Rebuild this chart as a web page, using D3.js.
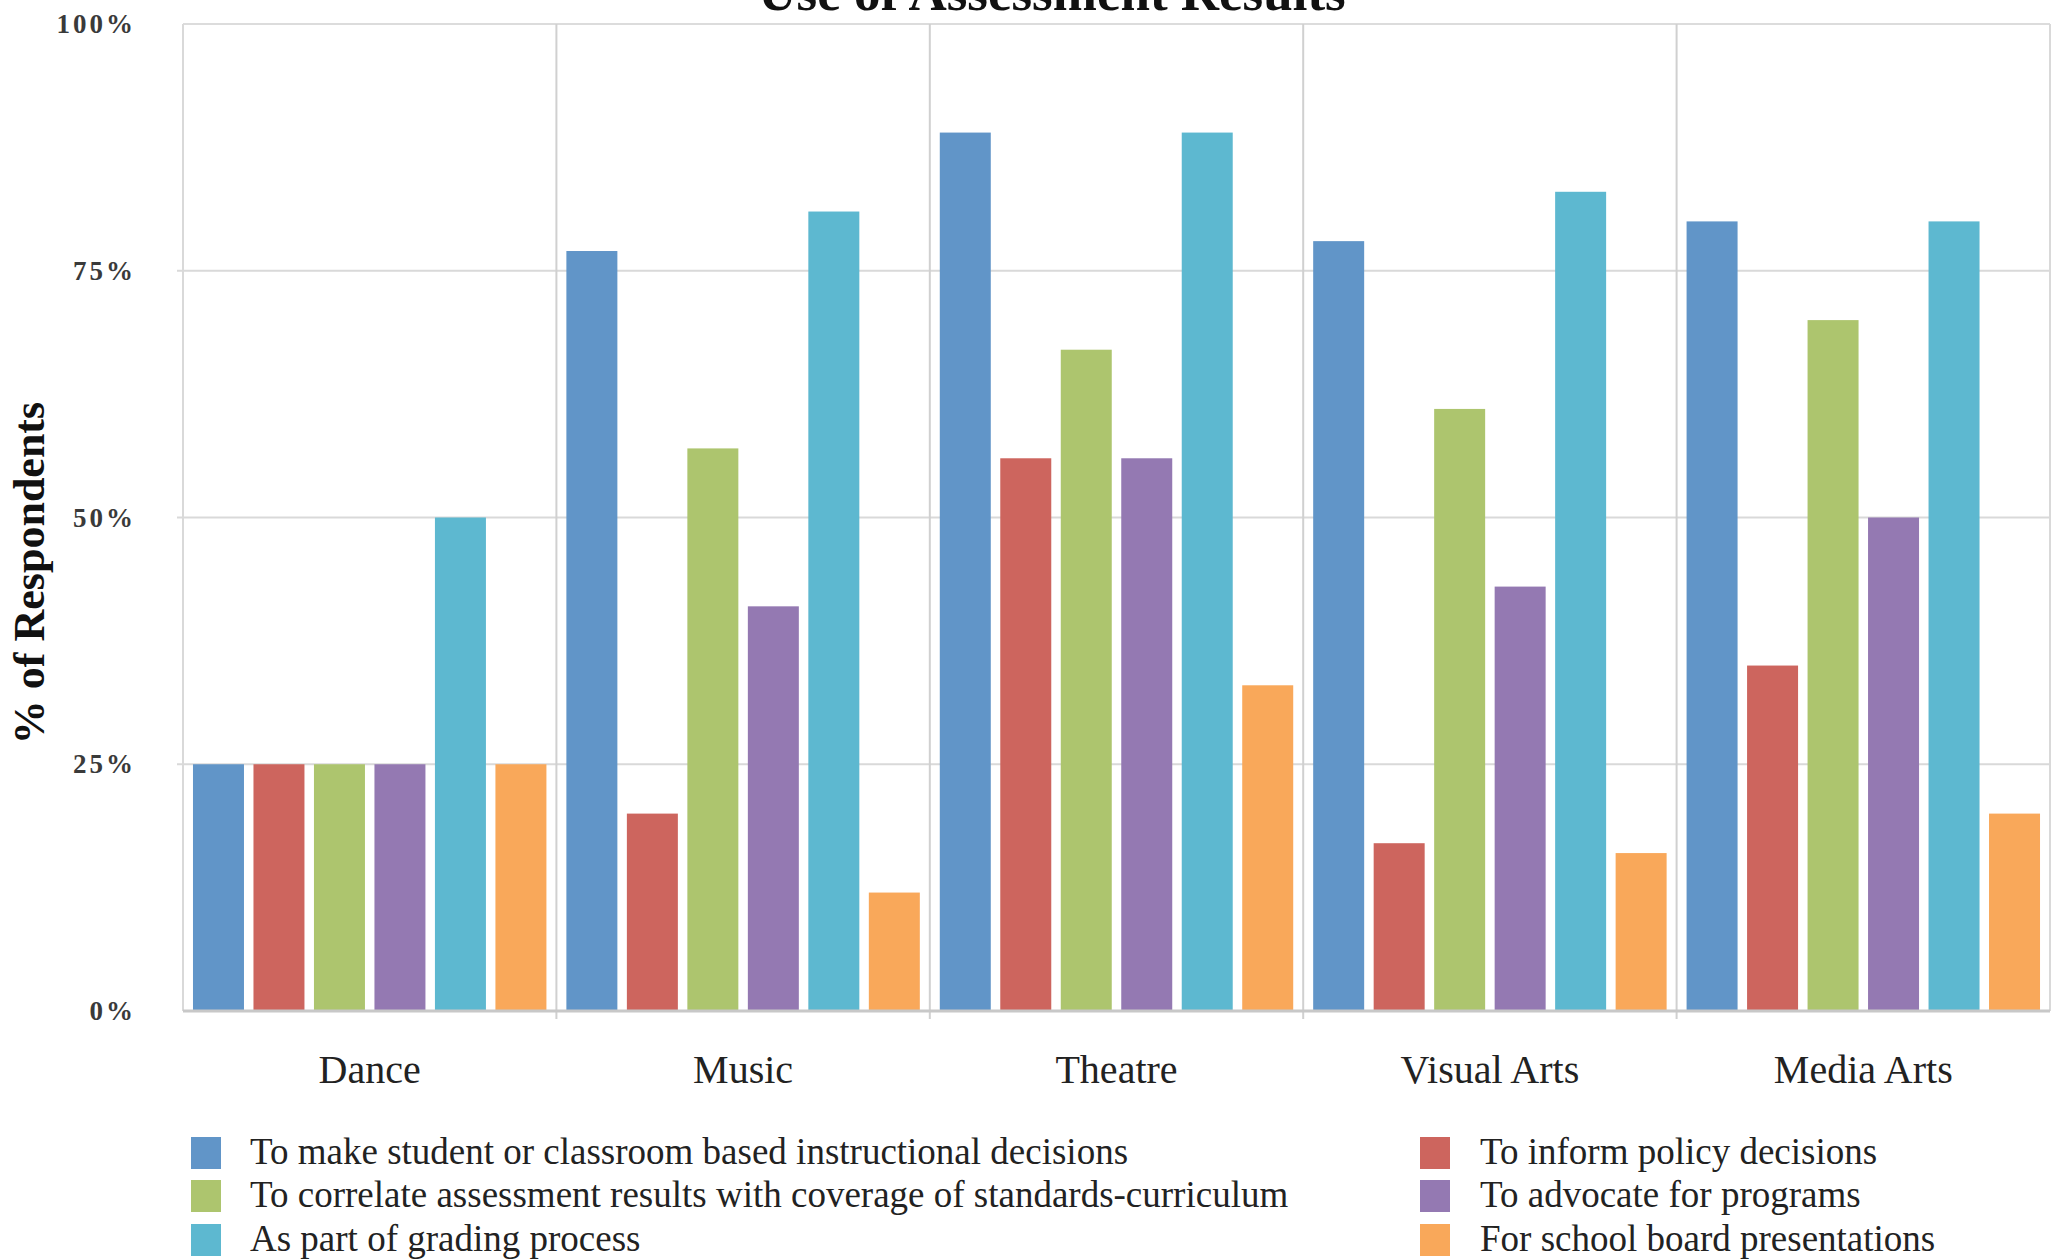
<!DOCTYPE html>
<html><head><meta charset="utf-8">
<script src="https://cdn.jsdelivr.net/npm/d3@7"></script>
<style>body{margin:0;background:#fff;}svg{display:block;}</style>
</head><body>
<script>
const title = "Use of Assessment Results";
const yTitle = "% of Respondents";
const categories = ["Dance", "Music", "Theatre", "Visual Arts", "Media Arts"];
const seriesNames = [
  "To make student or classroom based instructional decisions",
  "To inform policy decisions",
  "To correlate assessment results with coverage of standards-curriculum",
  "To advocate for programs",
  "As part of grading process",
  "For school board presentations"
];
const seriesColors = ["#6195C8", "#CD655E", "#ADC56E", "#9479B2", "#5DB8D0", "#F9A85A"];
const instructional = [25, 77, 89, 78, 80];
const policy = [25, 20, 56, 17, 35];
const correlate = [25, 57, 67, 61, 70];
const advocate = [25, 41, 56, 43, 50];
const grading = [50, 81, 89, 83, 80];
const board = [25, 12, 33, 16, 20];
const seriesValues = [instructional, policy, correlate, advocate, grading, board];
const yTicks = [0, 25, 50, 75, 100];
const yTickLabels = ["0%", "25%", "50%", "75%", "100%"];
// legend order: left column then right column
const legendOrder = [[0, 1], [2, 3], [4, 5]];

const W = 2061, H = 1260;
const m = {left: 183, right: 11, top: 24, bottom: 249};
const svg = d3.select("body").append("svg").attr("width", W).attr("height", H);

const x0 = d3.scaleBand().domain(categories).range([m.left, W - m.right]).padding(0);
const x1 = d3.scaleBand().domain(d3.range(seriesNames.length)).range([0, x0.bandwidth()])
  .paddingInner(0.157).paddingOuter(0.165);
const y = d3.scaleLinear().domain([0, 100]).range([H - m.bottom, m.top]);

const serif = "'Liberation Serif','Times New Roman',serif";

// gridlines
svg.append("g").selectAll("line").data(yTicks.filter(d => d > 0 && d < 100)).join("line")
  .attr("x1", m.left - 6).attr("x2", W - m.right)
  .attr("y1", d => y(d)).attr("y2", d => y(d))
  .attr("stroke", "#d9d9d9").attr("stroke-width", 2);
// frame top / left / right
svg.append("line").attr("x1", m.left).attr("x2", W - m.right).attr("y1", y(100)).attr("y2", y(100))
  .attr("stroke", "#dcdcdc").attr("stroke-width", 2);
svg.append("line").attr("x1", m.left).attr("x2", m.left).attr("y1", y(100)).attr("y2", y(0))
  .attr("stroke", "#d9d9d9").attr("stroke-width", 2);
svg.append("line").attr("x1", W - m.right).attr("x2", W - m.right).attr("y1", y(100)).attr("y2", y(0))
  .attr("stroke", "#d9d9d9").attr("stroke-width", 2);
// category separators
svg.append("g").selectAll("line").data(categories.slice(1)).join("line")
  .attr("x1", d => x0(d)).attr("x2", d => x0(d))
  .attr("y1", y(100)).attr("y2", y(0) + 8)
  .attr("stroke", "#d0d0d0").attr("stroke-width", 2);

// bars
const groups = svg.append("g").selectAll("g").data(categories).join("g")
  .attr("transform", d => `translate(${x0(d)},0)`);
groups.selectAll("rect").data((c, ci) => seriesValues.map((vals, si) => ({si, v: vals[ci]}))).join("rect")
  .attr("x", d => x1(d.si)).attr("width", x1.bandwidth())
  .attr("y", d => y(d.v)).attr("height", d => y(0) - y(d.v))
  .attr("fill", d => seriesColors[d.si]);

// x axis baseline
svg.append("line").attr("x1", m.left).attr("x2", W - m.right).attr("y1", y(0)).attr("y2", y(0))
  .attr("stroke", "#c8c8c8").attr("stroke-width", 3);

// y axis labels
const yAxis = d3.axisLeft(y).tickValues(yTicks).tickSize(0).tickFormat((d, i) => yTickLabels[i]);
const gy = svg.append("g").attr("transform", `translate(${m.left - 47},0)`).call(yAxis);
gy.select(".domain").remove();
gy.selectAll("text").attr("font-family", serif).attr("font-size", 27).attr("font-weight", "bold")
  .attr("fill", "#3a3a3a").attr("letter-spacing", 3).attr("x", 0).attr("dy", "0.32em");

// x axis labels
const xAxis = d3.axisBottom(x0).tickSize(0).tickPadding(0);
const gx = svg.append("g").attr("transform", `translate(0,${y(0) + 72})`).call(xAxis);
gx.select(".domain").remove();
gx.selectAll("text").attr("font-family", serif).attr("font-size", 40).attr("fill", "#222").attr("dy", 0);

// y title
svg.append("text").attr("transform", `translate(44,573) rotate(-90)`)
  .attr("text-anchor", "middle").attr("font-family", serif).attr("font-weight", "bold")
  .attr("font-size", 44).attr("fill", "#111").text(yTitle);

// title
svg.append("text").attr("x", 1052).attr("y", 10).attr("text-anchor", "middle")
  .attr("font-family", serif).attr("font-weight", "bold").attr("font-size", 53).attr("fill", "#111").text(title);

// legend
const colX = [[191, 250], [1420, 1480]];
const rowY = [1153, 1196, 1240];
const leg = svg.append("g");
legendOrder.forEach((row, ri) => {
  row.forEach((si, ci) => {
    leg.append("rect").attr("x", colX[ci][0]).attr("y", rowY[ri] - 16).attr("width", 30).attr("height", 32)
      .attr("fill", seriesColors[si]);
    leg.append("text").attr("x", colX[ci][1]).attr("y", rowY[ri] + 11)
      .attr("font-family", serif).attr("font-size", 37).attr("fill", "#222").text(seriesNames[si]);
  });
});
</script>
</body></html>
